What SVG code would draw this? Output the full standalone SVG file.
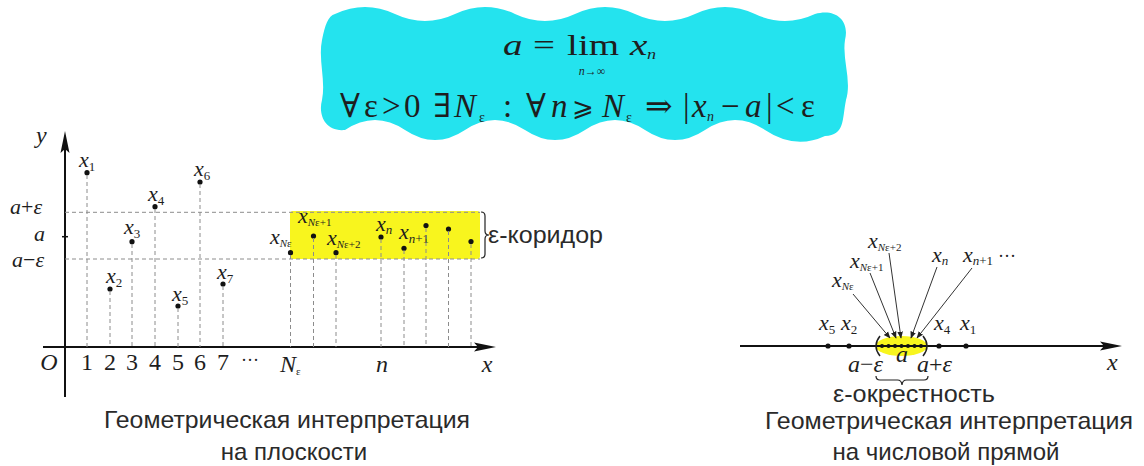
<svg xmlns="http://www.w3.org/2000/svg" width="1144" height="466" viewBox="0 0 1144 466">
<style>
.m{font-family:"Liberation Serif","DejaVu Serif",serif;fill:#1e1e1e}
.i{font-style:italic}
.u{font-style:normal}
.s{font-family:"Liberation Sans","DejaVu Sans",sans-serif;fill:#2a2a2a}
.ax{stroke:#111;stroke-width:2;fill:none}
.dash{stroke:#8c8c8c;stroke-width:1;stroke-dasharray:4 3;fill:none}
.dot{fill:#111}
.lbl{font-size:22px}
.sub{font-size:13px}
.subs{font-size:11px}
.tick{font-size:24px}
.yl{font-size:22px}
.arr{stroke:#333;stroke-width:1;fill:none;marker-end:url(#ah)}
.br{stroke:#222;stroke-width:1.2;fill:none}
</style>
<defs>
<marker id="ah" viewBox="0 0 10 10" refX="9" refY="5" markerWidth="7" markerHeight="7" orient="auto" markerUnits="userSpaceOnUse">
<path d="M0,1 L10,5 L0,9 Z" fill="#222"/>
</marker>
</defs>
<rect width="1144" height="466" fill="#fff"/>

<g id="formula">
<path d="M335,14 Q365,0 395,14 T455,14 T515,14 T575,14 T635,14 T695,14 T755,14 T815,14 C835,8 850,20 845,40 C842,60 852,80 846,100 C842,120 845,135 825,136 Q795,150 765,130 T705,130 T645,130 T585,130 T525,130 T465,130 T405,130 T345,130 C325,132 318,115 322,100 C326,80 318,60 322,40 C325,25 328,16 335,14 Z" fill="#24e3ee"/>
<g transform="scale(1.3,1)" class="m">
<text x="386.9" y="55" font-size="30" class="i">a</text>
<text x="410" y="55" font-size="30">=</text>
<text x="436.2" y="55" font-size="30">lim</text>
<text x="484.6" y="55" font-size="30" class="i">x</text>
<text x="497.7" y="59" font-size="14" class="i">n</text>
</g>
<text class="m" x="592" y="75" font-size="12" text-anchor="middle"><tspan class="i">n</tspan>→∞</text>
<text class="m" y="117" font-size="33"><tspan x="340">∀</tspan><tspan x="364">ε</tspan><tspan x="382">&gt;</tspan><tspan x="404">0</tspan><tspan x="433">∃</tspan><tspan x="454" class="i">N</tspan><tspan x="503">:</tspan><tspan x="526">∀</tspan><tspan x="551" class="i">n</tspan><tspan x="602" class="i">N</tspan><tspan x="645">⇒</tspan><tspan x="683">|</tspan><tspan x="692" class="i">x</tspan><tspan x="721">−</tspan><tspan x="745" class="i">a</tspan><tspan x="766">|</tspan><tspan x="776">&lt;</tspan><tspan x="801">ε</tspan></text>
<text class="m" x="572" y="116" font-size="26">⩾</text>
<text class="m" x="479" y="122" font-size="14">ε</text>
<text class="m" x="626" y="122" font-size="14">ε</text>
<text class="m i" x="707" y="121" font-size="14">n</text>
</g>

<g id="plane-plot">
<rect id="corridor" x="290" y="211" width="190" height="48" rx="3" fill="#f8f51e"/>
<path class="ax" d="M65,397 V146"/>
<path d="M65,131 L69.5,153 L65,149 L60.5,153 Z" fill="#111"/>
<path class="ax" d="M43,347 H480"/>
<path d="M496,347 L474,342.5 L478,347 L474,351.5 Z" fill="#111"/>
<path d="M62,236.7 H68" stroke="#111" stroke-width="1.5"/>
<text class="m i tick" x="36" y="143">y</text>
<text class="m yl" x="10" y="214"><tspan class="i">a</tspan>+<tspan class="i">ε</tspan></text>
<text class="m i yl" x="34" y="241">a</text>
<text class="m yl" x="12" y="267"><tspan class="i">a</tspan>−<tspan class="i">ε</tspan></text>
<g class="m tick" text-anchor="middle">
<text class="i" x="49" y="370">O</text>
<text x="87" y="370">1</text>
<text x="110" y="370">2</text>
<text x="132" y="370">3</text>
<text x="155" y="370">4</text>
<text x="178" y="370">5</text>
<text x="200" y="370">6</text>
<text x="223" y="370">7</text>
<text x="250" y="366" font-size="18">···</text>
<text class="i" x="382" y="372">n</text>
<text class="i" x="487" y="372">x</text>
</g>
<text class="m i tick" x="280" y="372">N<tspan class="u" font-size="11" dy="3">ε</tspan></text>
<g id="plane-points">
<circle class="dot" cx="87" cy="172.7" r="2.6"/>
<circle class="dot" cx="110" cy="289" r="2.6"/>
<circle class="dot" cx="132" cy="241.7" r="2.6"/>
<circle class="dot" cx="155" cy="206.7" r="2.6"/>
<circle class="dot" cx="178" cy="306" r="2.6"/>
<circle class="dot" cx="200" cy="182" r="2.6"/>
<circle class="dot" cx="223" cy="284" r="2.6"/>
<circle class="dot" cx="290.5" cy="252.7" r="2.6"/>
<circle class="dot" cx="313.5" cy="236" r="2.6"/>
<circle class="dot" cx="336" cy="252.7" r="2.6"/>
<circle class="dot" cx="381" cy="237" r="2.6"/>
<circle class="dot" cx="404" cy="248.3" r="2.6"/>
<circle class="dot" cx="426" cy="225.5" r="2.6"/>
<circle class="dot" cx="448.5" cy="229" r="2.6"/>
<circle class="dot" cx="471" cy="241.5" r="2.6"/>
</g>
<g class="m i lbl">
<text x="79" y="167">x<tspan class="u sub" dy="4">1</tspan></text>
<text x="106" y="283">x<tspan class="u sub" dy="4">2</tspan></text>
<text x="124" y="234">x<tspan class="u sub" dy="4">3</tspan></text>
<text x="148" y="201">x<tspan class="u sub" dy="4">4</tspan></text>
<text x="172" y="301">x<tspan class="u sub" dy="4">5</tspan></text>
<text x="194" y="176">x<tspan class="u sub" dy="4">6</tspan></text>
<text x="217" y="279">x<tspan class="u sub" dy="4">7</tspan></text>
<text x="270" y="244">x<tspan class="subs" dy="3">N</tspan><tspan class="u subs">ε</tspan></text>
<text x="298" y="223">x<tspan class="subs" dy="3">N</tspan><tspan class="u subs">ε+1</tspan></text>
<text x="327" y="245">x<tspan class="subs" dy="3">N</tspan><tspan class="u subs">ε+2</tspan></text>
<text x="376" y="231">x<tspan class="sub" dy="3">n</tspan></text>
<text x="399" y="239">x<tspan class="sub" dy="4">n</tspan><tspan class="u sub">+1</tspan></text>
</g>
<path class="br" d="M481,212 q4,0 4,4 v15 q0,4 4,4 q-4,0 -4,4 v15 q0,4 -4,4"/>
<text class="s" x="488" y="243" font-size="23" textLength="115" lengthAdjust="spacingAndGlyphs">ε-коридор</text>
</g>

<g id="line-plot">
<ellipse cx="901.5" cy="346" rx="26" ry="10" fill="#f8f51e"/>
<path class="ax" d="M740,346 H1105"/>
<path d="M1122,346 L1100,341.5 L1104,346 L1100,350.5 Z" fill="#111"/>
<path d="M880,336 Q872,346 880,356 M923,336 Q931,346 923,356" stroke="#222" stroke-width="1.5" fill="none"/>
<g id="line-points">
<circle class="dot" cx="828" cy="346" r="2.6"/>
<circle class="dot" cx="849" cy="346" r="2.6"/>
<circle class="dot" cx="939" cy="346" r="2.6"/>
<circle class="dot" cx="966" cy="346" r="2.6"/>
<circle class="dot" cx="882" cy="346" r="2"/>
<circle class="dot" cx="888.5" cy="346" r="2"/>
<circle class="dot" cx="895" cy="346" r="2"/>
<circle class="dot" cx="901.5" cy="346" r="2"/>
<circle class="dot" cx="908" cy="346" r="2"/>
<circle class="dot" cx="914.5" cy="346" r="2"/>
<circle class="dot" cx="921" cy="346" r="2"/>
</g>
<g class="m i lbl">
<text x="819" y="330">x<tspan class="u sub" dy="4">5</tspan></text>
<text x="841" y="330">x<tspan class="u sub" dy="4">2</tspan></text>
<text x="934" y="330">x<tspan class="u sub" dy="4">4</tspan></text>
<text x="960" y="330">x<tspan class="u sub" dy="4">1</tspan></text>
<text x="832" y="287">x<tspan class="subs" dy="3">N</tspan><tspan class="u subs">ε</tspan></text>
<text x="850" y="268">x<tspan class="subs" dy="3">N</tspan><tspan class="u subs">ε+1</tspan></text>
<text x="868" y="248">x<tspan class="subs" dy="3">N</tspan><tspan class="u subs">ε+2</tspan></text>
<text x="932" y="262">x<tspan class="sub" dy="3">n</tspan></text>
<text x="963" y="262">x<tspan class="sub" dy="3">n</tspan><tspan class="u sub">+1</tspan><tspan class="u" dx="5" dy="-3" font-size="18">···</tspan></text>
<text class="tick" x="848" y="372">a<tspan class="u">−</tspan>ε</text>
<text class="tick" x="896" y="362">a</text>
<text class="tick" x="917" y="372">a<tspan class="u">+</tspan>ε</text>
<text class="tick" x="1107" y="370">x</text>
</g>
<path class="br" d="M876,376 q0,4 4,4 h17.5 q4,0 4.5,5 q0.5,-5 4.5,-5 h17.5 q4,0 4,-4"/>
<text class="s" x="833" y="402" font-size="23" textLength="162" lengthAdjust="spacingAndGlyphs">ε-окрестность</text>
</g>

<g id="connectors">
<g class="dash">
<path d="M65,212.3 H480 M65,259 H480"/>
<path d="M87,175 V347 M110,291 V347 M132,244 V347 M155,209 V347 M178,308 V347 M200,184 V347 M223,286 V347 M290.5,255 V347 M313.5,238 V347 M336,255 V347 M381,239 V347 M404,250 V347 M426,228 V347 M448.5,231 V347 M471,244 V347"/>
</g>
<path class="arr" d="M853,294 L890,338"/>
<path class="arr" d="M870,273 L896,338"/>
<path class="arr" d="M889,253 L901,338"/>
<path class="arr" d="M937,267 L911,338"/>
<path class="arr" d="M972,268 L917,338"/>
</g>

<g id="captions" class="s" font-size="24">
<text x="104" y="428" textLength="366" lengthAdjust="spacingAndGlyphs">Геометрическая интерпретация</text>
<text x="294" y="460" text-anchor="middle">на плоскости</text>
<text x="765" y="429" textLength="368" lengthAdjust="spacingAndGlyphs">Геометрическая интерпретация</text>
<text x="946" y="460" text-anchor="middle">на числовой прямой</text>
</g>
</svg>
